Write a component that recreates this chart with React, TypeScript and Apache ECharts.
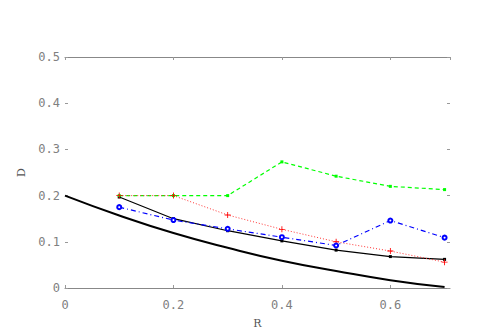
import React, { useEffect, useRef } from "react";
import * as echarts from "echarts";

const rValues = [0.1, 0.2, 0.3, 0.4, 0.5, 0.6, 0.7];
const curveR = [0, 0.1, 0.2, 0.3, 0.4, 0.5, 0.6, 0.7];
const curveD = [0.2, 0.157, 0.119, 0.087, 0.059, 0.037, 0.017, 0.002];
const blackD = [0.197, 0.15, 0.124, 0.102, 0.082, 0.068, 0.062];
const greenD = [0.2, 0.2, 0.2, 0.273, 0.242, 0.22, 0.213];
const redD = [0.2, 0.2, 0.158, 0.127, 0.1, 0.08, 0.056];
const blueD = [0.175, 0.147, 0.128, 0.11, 0.092, 0.146, 0.109];

const pairs = (xs: number[], ys: number[]) => xs.map((x, i) => [x, ys[i]]);

export default function App() {
  const ref = useRef<HTMLDivElement>(null);
  useEffect(() => {
    if (!ref.current) return;
    const chart = echarts.init(ref.current, undefined, { renderer: "svg" });
    const labelStyle = {
      fontFamily: "DejaVu Sans Mono",
      fontSize: 12,
      color: "#808080",
    };
    const tickStyle = { show: true, inside: true, length: 3, lineStyle: { color: "#999", width: 1 } };
    chart.setOption({
      animation: false,
      backgroundColor: "#fff",
      grid: { left: 65, right: 48, top: 57, bottom: 47 },
      xAxis: [
        {
          type: "value",
          min: 0,
          max: 0.71,
          interval: 0.2,
          position: "bottom",
          name: "R",
          nameLocation: "middle",
          nameGap: 30,
          nameTextStyle: { fontFamily: "DejaVu Serif", fontSize: 11, color: "#555" },
          axisLine: { show: true, onZero: false, lineStyle: { color: "#888", width: 1 } },
          axisTick: tickStyle,
          splitLine: { show: false },
          axisLabel: { ...labelStyle, margin: 11, showMaxLabel: false },
        },
        {
          type: "value",
          min: 0,
          max: 0.71,
          interval: 0.2,
          position: "top",
          axisLine: { show: true, onZero: false, lineStyle: { color: "#888", width: 1 } },
          axisTick: tickStyle,
          splitLine: { show: false },
          axisLabel: { show: false },
        },
      ],
      yAxis: [
        {
          type: "value",
          min: 0,
          max: 0.5,
          interval: 0.1,
          position: "left",
          name: "D",
          nameLocation: "middle",
          nameGap: 30,
          nameTextStyle: { fontFamily: "DejaVu Serif", fontSize: 11, color: "#555" },
          axisLine: { show: false, onZero: false },
          axisTick: tickStyle,
          splitLine: { show: false },
          axisLabel: { ...labelStyle, margin: 5, showMaxLabel: true },
        },
        {
          type: "value",
          min: 0,
          max: 0.5,
          interval: 0.1,
          position: "right",
          axisLine: { show: false, onZero: false },
          axisTick: tickStyle,
          splitLine: { show: false },
          axisLabel: { show: false },
        },
      ],
      series: [
        {
          type: "line",
          data: pairs(curveR, curveD),
          smooth: true,
          showSymbol: false,
          lineStyle: { color: "#000", width: 2 },
        },
        {
          type: "line",
          data: pairs(rValues, blackD),
          symbol: "rect",
          symbolSize: 3,
          itemStyle: { color: "#000" },
          lineStyle: { color: "#000", width: 1.2 },
        },
        {
          type: "line",
          data: pairs(rValues, greenD),
          symbol: "rect",
          symbolSize: 3,
          itemStyle: { color: "#00ff00" },
          lineStyle: { color: "#00ff00", width: 1.2, type: [4, 3] },
        },
        {
          type: "line",
          data: pairs(rValues, redD),
          symbol: "path://M3,0h1v3h3v1h-3v3h-1v-3h-3v-1h3z",
          symbolSize: 6,
          itemStyle: { color: "#ff0000" },
          lineStyle: { color: "#ff3333", width: 1, type: [1, 2] },
        },
        {
          type: "line",
          data: pairs(rValues, blueD),
          symbol: "emptyCircle",
          symbolSize: 4,
          itemStyle: { color: "#0000ff", borderWidth: 1 },
          lineStyle: { color: "#0000ff", width: 1.2, type: [5, 3, 1, 3] },
        },
      ],
    });
    return () => chart.dispose();
  }, []);
  return <div ref={ref} style={{ width: 498, height: 335, position: "fixed", left: 0, top: 0 }} />;
}
